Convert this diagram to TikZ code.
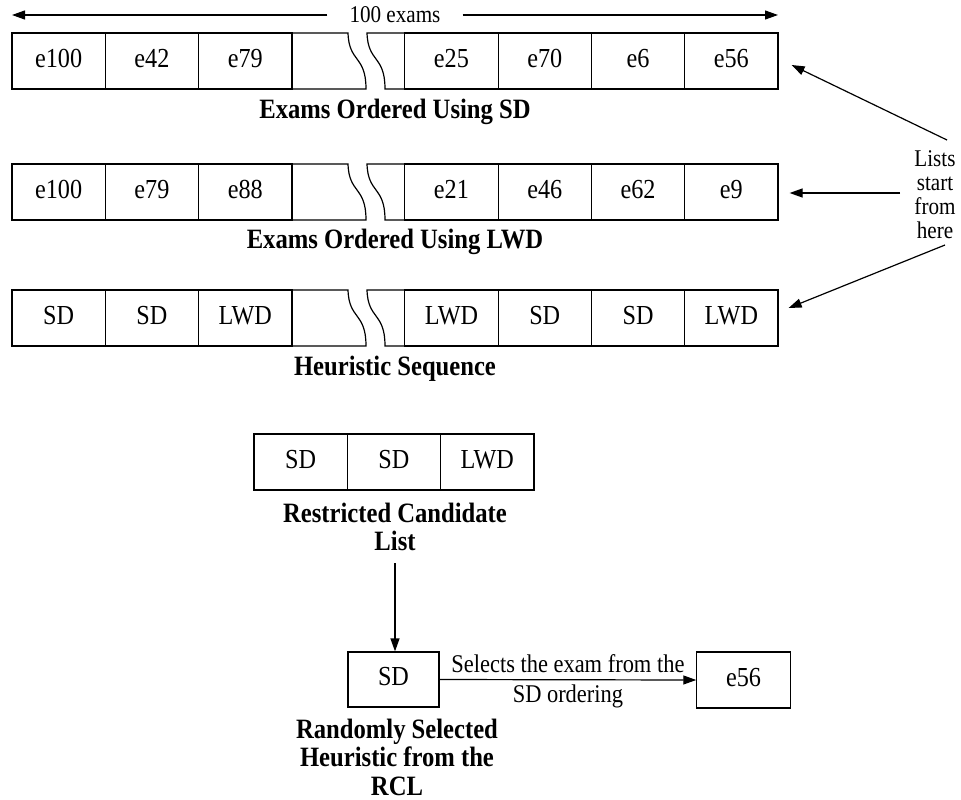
\documentclass[tikz,border=0pt]{standalone}
\usepackage{fontspec}
\setmainfont{Liberation Serif}[FakeStretch=0.88]
\usetikzlibrary{arrows.meta,calc}

\newcommand{\cellfont}{\fontsize{27.5}{30}\selectfont}
\newcommand{\headfont}{\fontsize{28}{28.5}\selectfont\bfseries}
\newcommand{\notefont}{\fontsize{24}{24}\selectfont}
\newcommand{\edgefont}{\fontsize{25.5}{26}\selectfont}

\tikzset{
  cellbox/.style={draw, line width=1.2pt, minimum width=93.3pt, minimum height=56pt,
    inner sep=0pt, font=\cellfont, text height=18pt, text depth=6pt},
  heading/.style={font=\headfont, align=center, inner sep=0pt},
  plain/.style={font=\notefont, align=center, inner sep=0pt},
  arr/.style={line width=1.2pt, -{Triangle[length=13pt,width=9pt]}},
  outline/.style={line width=1.2pt}
}

\begin{document}
\begin{tikzpicture}[x=1pt,y=-1pt]
\useasboundingbox (0,0) rectangle (961,800);

% span of the lists
\node[plain, inner xsep=22pt] (span) at (395,15) {100 exams};
\coordinate (spanL) at (12,15);
\coordinate (spanR) at (778,15);
\draw[arr] (span.west) -- (spanL);
\draw[arr] (span.east) -- (spanR);

% three broken lists: row name / top edge / cell texts
\foreach \r/\t/\a/\b/\c/\d/\e/\f/\g in {
  1/33/e100/e42/e79/e25/e70/e6/e56,
  2/164/e100/e79/e88/e21/e46/e62/e9,
  3/290/SD/SD/LWD/LWD/SD/SD/LWD} {
  \pgfmathsetmacro{\m}{\t+28}
  \node[cellbox] (r\r c1) at (58.65,\m) {\a};
  \node[cellbox] (r\r c2) at (151.95,\m) {\b};
  \node[cellbox] (r\r c3) at (245.25,\m) {\c};
  \node[cellbox] (r\r c5) at (451.45,\m) {\d};
  \node[cellbox] (r\r c6) at (544.75,\m) {\e};
  \node[cellbox] (r\r c7) at (638.05,\m) {\f};
  \node[cellbox] (r\r c8) at (731.35,\m) {\g};
  % torn cell on the left of the gap
  \draw[outline] (291.9,\t) -- (348,\t)
    .. controls (349,{\t+30}) and (366,{\t+22}) .. (366,{\t+56})
    -- (291.9,{\t+56});
  % torn cell on the right of the gap
  \draw[outline] (404.8,\t) -- (367,\t)
    .. controls (368,{\t+30}) and (385,{\t+22}) .. (385,{\t+56})
    -- (404.8,{\t+56});
}

% captions of the lists
\node[heading] (cap1) at (395,112) {Exams Ordered Using SD};
\node[heading] (cap2) at (395,242) {Exams Ordered Using LWD};
\node[heading] (cap3) at (395,369) {Heuristic Sequence};

% start marker
\node[plain] (lists) at (935,195) {Lists\\start\\from\\here};
\coordinate (a1) at (947,140);
\coordinate (a2) at (900,193);
\coordinate (a3) at (945,245);
\draw[arr] (a1) -- ($(r1c8.east)+(13,4)$);
\draw[arr] (a2) -- ($(r2c8.east)+(11,1)$);
\draw[arr] (a3) -- ($(r3c8.east)+(10,-10)$);

% restricted candidate list
\node[cellbox] (rcl1) at (300.65,462) {SD};
\node[cellbox] (rcl2) at (393.95,462) {SD};
\node[cellbox] (rcl3) at (487.25,462) {LWD};
\node[heading] (rcllabel) at (395,527) {Restricted Candidate\\List};

% selected heuristic and chosen exam
\node[cellbox, minimum width=91pt, minimum height=55pt] (pick) at (393.5,679.5) {SD};
\node[cellbox] (exam) at (743.5,680) {e56};
\coordinate (down) at (395,563);
\draw[arr] (down) -- (down |- pick.north);
\draw[arr] (pick.east) -- (exam.west)
  node[midway, plain, above=6pt, font=\edgefont] {Selects the exam from the}
  node[midway, plain, below=4pt, font=\edgefont] {SD ordering};
\node[heading] (picklabel) at (397,757) {Randomly Selected\\Heuristic from the\\RCL};
\end{tikzpicture}
\end{document}
